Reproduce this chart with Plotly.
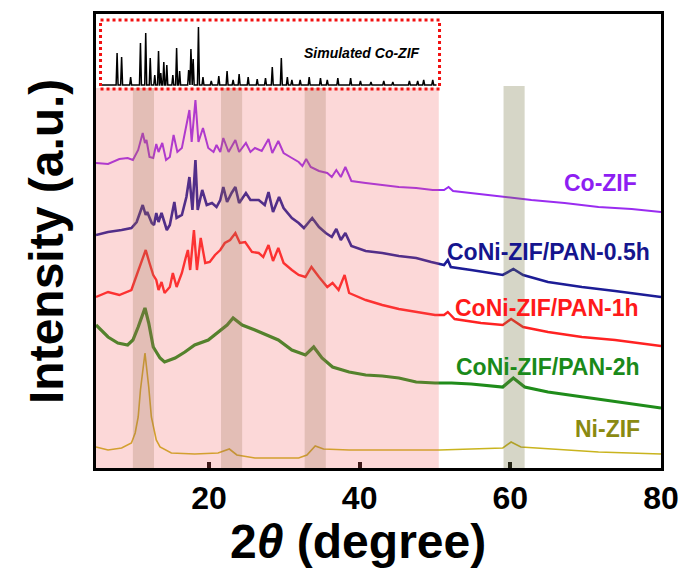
import plotly.graph_objects as go

# ---- XRD patterns (2theta in degrees, stacked intensity in a.u.) ----
co_zif_x = [5.0, 6.6, 8.1, 9.2, 9.9, 10.6, 11.2, 11.5, 11.7, 12.1, 12.6, 13.0, 13.3, 13.8, 14.3, 14.8,
            15.3, 15.8, 16.4, 17.0, 17.4, 17.7, 18.2, 18.6, 19.2, 19.9, 20.6, 21.0, 21.5, 21.9, 22.6,
            23.5, 24.0, 24.9, 25.5, 26.1, 27.0, 27.9, 28.4, 29.2, 29.9, 31.0, 31.9, 32.4, 32.9, 33.5,
            34.6, 35.7, 36.3, 36.9, 37.5, 38.1, 38.9, 40.8, 43.0, 45.2, 47.5, 49.7, 51.2, 51.8, 52.4,
            54.8, 58.4, 60.1, 62.8, 67.2, 71.7, 76.1, 80.0]
co_zif_y = [305, 304, 309, 310, 308, 318, 335, 325, 328, 311, 310, 324, 316, 325, 308, 311,
            333, 316, 320, 341, 358, 326, 368, 326, 340, 320, 316, 323, 316, 330, 316,
            328, 316, 325, 316, 320, 317, 329, 315, 327, 315, 310, 306, 302, 309, 301,
            297, 295, 291, 298, 291, 301, 287, 285, 283, 281, 280, 278, 278, 281, 277,
            275, 272, 270, 268, 265, 261, 259, 256]

pan05_x = [5.0, 6.6, 8.4, 9.7, 10.4, 11.2, 11.6, 11.8, 12.4, 12.7, 13.0, 13.3, 13.7, 14.4, 14.8,
           15.4, 15.7, 16.4, 17.0, 17.4, 17.8, 18.2, 18.5, 19.1, 19.7, 20.4, 21.0, 21.5, 21.9, 22.4,
           23.0, 23.5, 24.0, 24.9, 25.5, 26.6, 27.4, 27.9, 28.5, 29.3, 29.9, 31.0, 31.9, 32.6, 33.7,
           34.6, 35.5, 36.3, 36.9, 37.5, 38.1, 38.9, 40.8, 43.0, 45.2, 47.5, 49.5, 51.2, 51.7, 52.1,
           54.8, 59.0, 60.4, 61.7, 65.0, 69.5, 73.9, 80.0]
pan05_y = [233, 236, 238, 240, 246, 263, 253, 256, 245, 243, 255, 246, 255, 238, 243,
           266, 250, 253, 271, 291, 258, 308, 258, 278, 263, 265, 261, 268, 281, 266,
           275, 281, 265, 275, 268, 268, 263, 276, 256, 271, 260, 250, 245, 240, 250,
           241, 235, 231, 239, 228, 235, 222, 217, 215, 212, 210, 206, 203, 208, 201,
           198, 193, 199, 193, 186, 181, 177, 171]

pan1_x = [5.0, 6.6, 8.1, 9.7, 10.5, 11.6, 12.1, 12.6, 13.0, 13.3, 13.7, 14.1, 14.8, 15.2, 15.7,
          16.4, 16.9, 17.2, 17.5, 18.0, 18.4, 18.9, 19.5, 20.1, 20.8, 21.5, 22.1, 22.8, 23.5, 24.1,
          24.8, 25.7, 26.6, 27.2, 27.9, 28.5, 29.2, 29.9, 31.0, 31.9, 32.8, 33.6, 34.6, 35.7, 36.4,
          37.2, 38.0, 38.6, 40.8, 43.0, 45.2, 47.5, 50.0, 51.2, 51.7, 52.6, 56.1, 59.0, 60.1, 61.7,
          65.0, 69.5, 73.9, 80.0]
pan1_y = [171, 176, 173, 178, 195, 218, 205, 193, 188, 178, 186, 175, 181, 195, 181,
          195, 210, 218, 198, 238, 198, 230, 205, 206, 213, 218, 225, 228, 235, 225,
          226, 216, 215, 211, 223, 207, 220, 205, 198, 193, 191, 201, 191, 181, 185,
          178, 193, 175, 168, 163, 159, 156, 153, 153, 156, 149, 145, 143, 149, 141,
          136, 131, 128, 122]

pan2_x = [5.0, 6.6, 7.9, 9.2, 9.9, 10.6, 11.5, 12.0, 12.6, 13.5, 14.1, 15.5, 16.8, 18.1, 19.9,
          21.2, 22.4, 23.2, 24.4, 26.1, 28.4, 29.2, 31.0, 32.8, 33.9, 35.0, 36.4, 38.6, 40.8, 43.0,
          45.2, 47.5, 50.0, 52.2, 54.8, 59.0, 60.4, 61.9, 65.0, 69.5, 73.9, 80.0]
pan2_y = [143, 131, 125, 123, 128, 141, 160, 145, 121, 110, 106, 110, 116, 123, 128,
          136, 143, 150, 143, 138, 130, 128, 118, 113, 121, 110, 101, 96, 93, 92,
          90, 86, 85, 85, 84, 81, 90, 81, 76, 71, 66, 60]

ni_zif_x = [5.0, 6.6, 8.4, 9.7, 10.2, 10.6, 10.9, 11.5, 12.0, 12.35, 13.0, 13.5, 15.0, 18.1, 21.2,
            22.7, 23.7, 26.1, 28.4, 31.9, 33.0, 34.1, 35.2, 38.6, 45.2, 50.6, 59.0, 60.1, 61.4,
            65.0, 71.7, 80.0]
ni_zif_y = [21, 18, 20, 25, 35, 51, 78, 115, 81, 51, 28, 21, 15, 14, 15,
            19, 13, 10, 10, 10, 13, 22, 19, 18, 18, 18, 20, 26, 21,
            19, 16, 14]

# Simulated Co-ZIF reflections (2theta, relative height) on a flat baseline
sim_pos = [7.8, 8.4, 9.6, 10.9, 11.6, 12.2, 12.8, 13.3, 13.6, 14.0, 14.4, 15.2, 15.7, 16.1, 17.3,
           17.6, 17.9, 18.6, 19.2, 20.3, 21.3, 22.4, 23.2, 24.0, 25.2, 26.4, 27.5, 28.4, 29.6,
           30.4, 31.0, 32.1, 33.3, 34.8, 35.7, 37.1, 38.8, 40.1, 41.5, 43.2, 44.4, 46.6, 47.7,
           48.5, 49.7]
sim_height = [32, 28, 8, 42, 52, 27, 10, 34, 12, 23, 20, 10, 37, 14, 15,
              36, 26, 58, 8, 4, 9, 14, 5, 11, 8, 6, 7, 18, 27,
              8, 5, 5, 8, 7, 5, 7, 7, 4, 3, 4, 3, 4, 4,
              5, 5]
sim_base = 383
sim_start, sim_end = 5.8, 50.2

series_names = ["Co-ZIF", "CoNi-ZIF/PAN-0.5h", "CoNi-ZIF/PAN-1h", "CoNi-ZIF/PAN-2h", "Ni-ZIF"]
line_colors = ["#9a2cf0", "#1c1c96", "#ff2222", "#1f8c1a", "#c9b41e"]
label_colors = ["#8e1ef2", "#15158e", "#ff1a1a", "#1a8a1a", "#8a8a12"]
line_widths = [2.0, 2.6, 2.4, 3.2, 1.6]
label_x = [72.0, 65.0, 64.9, 65.0, 72.9]
label_y = [285, 216, 160, 101, 39]

# highlighted 2theta windows
bands = [(9.9, 12.7), (21.6, 24.4), (32.7, 35.5)]
band_ni = (59.1, 61.9)
zif_region = (5.0, 50.5)

FONT = "Liberation Sans, Arial, sans-serif"

L, R, T, B = 96, 23, 14, 110
PW, PH = 684 - L - R, 578 - T - B

fig = go.Figure()

# simulated stick pattern
sx, sy = [sim_start], [sim_base]
for p, h in zip(sim_pos, sim_height):
    sx += [p - 0.13, p, p + 0.13]
    sy += [sim_base, sim_base + h, sim_base]
sx.append(sim_end)
sy.append(sim_base)
fig.add_trace(go.Scatter(x=sx, y=sy, mode="lines", line=dict(color="black", width=1.5),
                         showlegend=False, hoverinfo="skip"))

all_x = [co_zif_x, pan05_x, pan1_x, pan2_x, ni_zif_x]
all_y = [co_zif_y, pan05_y, pan1_y, pan2_y, ni_zif_y]
for name, xs, ys, c, w in zip(series_names, all_x, all_y, line_colors, line_widths):
    fig.add_trace(go.Scatter(x=xs, y=ys, mode="lines", name=name,
                             line=dict(color=c, width=w), showlegend=False))

shapes = [dict(type="rect", xref="x", yref="y", x0=zif_region[0], x1=zif_region[1], y0=0, y1=380,
               fillcolor="rgba(245,100,100,0.25)", line=dict(width=0), layer="above")]
for b0, b1 in bands:
    shapes.append(dict(type="rect", xref="x", yref="y", x0=b0, x1=b1, y0=0, y1=380,
                       fillcolor="rgba(150,110,80,0.25)", line=dict(width=0), layer="above"))
shapes.append(dict(type="rect", xref="x", yref="y", x0=band_ni[0], x1=band_ni[1], y0=0, y1=382,
                   fillcolor="rgba(120,120,70,0.30)", line=dict(width=0), layer="above"))
shapes.append(dict(type="rect", xref="x", yref="y", x0=5.6, x1=50.6, y0=379, y1=448,
                   fillcolor="rgba(0,0,0,0)", line=dict(color="#f21010", width=3, dash="dot"),
                   layer="above"))

annotations = []
for name, c, lx, ly in zip(series_names, label_colors, label_x, label_y):
    annotations.append(dict(x=lx, y=ly, xref="x", yref="y", text=f"<b>{name}</b>",
                            showarrow=False, font=dict(family=FONT, size=23, color=c)))
annotations.append(dict(x=40.3, y=415, xref="x", yref="y", text="<b><i>Simulated Co-ZIF</i></b>",
                        showarrow=False, font=dict(family=FONT, size=14, color="black")))
annotations.append(dict(xref="x domain", yref="y domain", x=(46 - L) / PW, y=(T + PH - 242) / PH,
                        text="<b>Intensity (a.u.)</b>", showarrow=False, textangle=-90,
                        xanchor="center", yanchor="middle",
                        font=dict(family=FONT, size=48, color="black")))
annotations.append(dict(xref="x domain", yref="y domain", x=(358 - L) / PW, y=(T + PH - 541) / PH,
                        text="<b>2<i>θ</i> (degree)</b>", showarrow=False,
                        xanchor="center", yanchor="middle",
                        font=dict(family=FONT, size=48, color="black")))

fig.update_layout(
    width=684, height=578,
    margin=dict(l=L, r=R, t=T, b=B, autoexpand=False),
    paper_bgcolor="white", plot_bgcolor="white",
    shapes=shapes, annotations=annotations,
    showlegend=False,
)
fig.update_xaxes(range=[5, 80], tickvals=[20, 40, 60, 80], ticktext=["20", "40", "60", "80"],
                 ticks="inside", ticklen=6, tickwidth=4, tickcolor="black",
                 showline=True, linecolor="black", linewidth=3, mirror=True, automargin=False,
                 showgrid=False, zeroline=False, ticklabelstandoff=0,
                 tickfont=dict(family=FONT, size=32, color="black", weight="bold"))
fig.update_yaxes(range=[0, 454], showticklabels=False, ticks="", automargin=False,
                 showline=True, linecolor="black", linewidth=3, mirror=True,
                 showgrid=False, zeroline=False)

fig.write_html("out.html")
